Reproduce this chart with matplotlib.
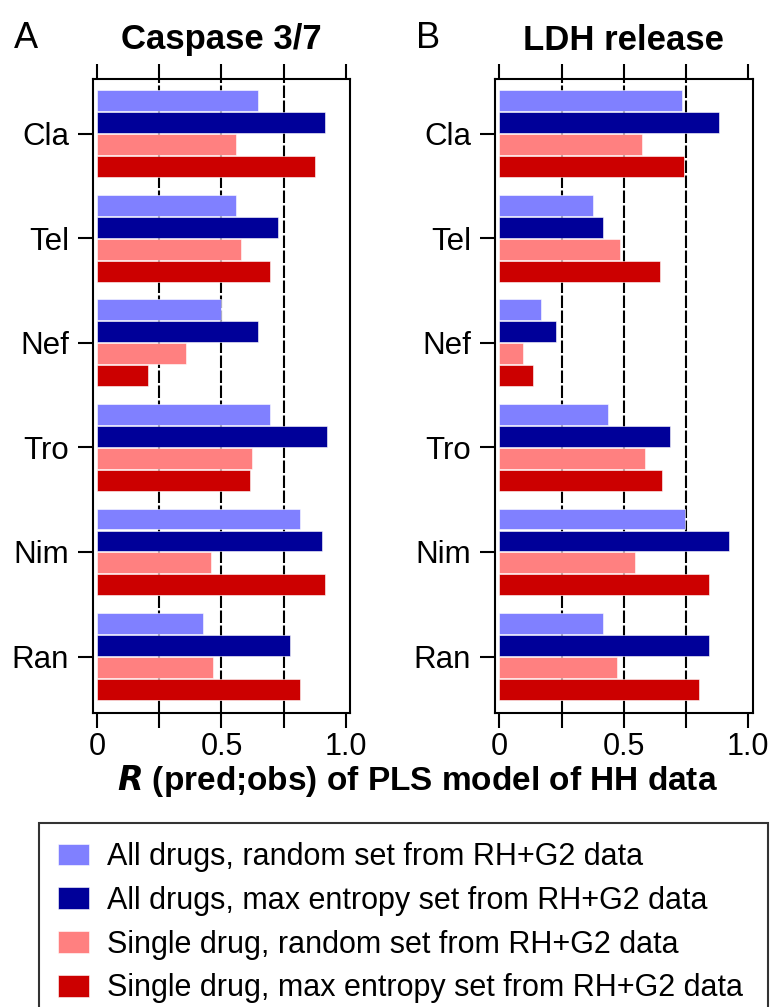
import numpy as np
import matplotlib
matplotlib.use("Agg")
import matplotlib.pyplot as plt

plt.rcParams['font.family'] = ['Liberation Sans', 'DejaVu Sans']

# datos
drogas = ['Cla', 'Tel', 'Nef', 'Tro', 'Nim', 'Ran']
series = ['All drugs, random set from RH+G2 data',
          'All drugs, max entropy set from RH+G2 data',
          'Single drug, random set from RH+G2 data',
          'Single drug, max entropy set from RH+G2 data']
colores = ['#8080FF', '#000099', '#FF8080', '#CC0000']

# Caspase 3/7
casp_all_rand = [0.646, 0.557, 0.497, 0.695, 0.816, 0.427]
casp_all_maxent = [0.917, 0.726, 0.648, 0.926, 0.906, 0.776]
casp_single_rand = [0.557, 0.577, 0.357, 0.625, 0.456, 0.467]
casp_single_maxent = [0.876, 0.695, 0.205, 0.615, 0.917, 0.816]

# LDH release
ldh_all_rand = [0.735, 0.378, 0.166, 0.435, 0.746, 0.415]
ldh_all_maxent = [0.884, 0.415, 0.228, 0.686, 0.922, 0.843]
ldh_single_rand = [0.574, 0.485, 0.096, 0.584, 0.545, 0.474]
ldh_single_maxent = [0.743, 0.645, 0.137, 0.655, 0.843, 0.803]

xticks = [0, 0.25, 0.5, 0.75, 1.0]
xticklabels = ['0', '', '0.5', '', '1.0']

W, H = 770, 1007
fig = plt.figure(figsize=(W/100, H/100), dpi=100)

paneles = [
    ((92.7, 350.0), 'A', 'Caspase 3/7',
     [casp_all_rand, casp_all_maxent, casp_single_rand, casp_single_maxent]),
    ((494.7, 752.7), 'B', 'LDH release',
     [ldh_all_rand, ldh_all_maxent, ldh_single_rand, ldh_single_maxent]),
]

y_top, y_bot = 79.3, 713.0
paso = 0.21
alto = 0.20
y = np.arange(len(drogas))
barras = []
for (x0, x1), letra, titulo, datos in paneles:
    ax = fig.add_axes([x0/W, 1 - y_bot/H, (x1 - x0)/W, (y_bot - y_top)/H])
    for k, vals in enumerate(datos):
        b = ax.barh(y + (k - 1.5)*paso, vals, height=alto, color=colores[k],
                    edgecolor='white', linewidth=0.4, zorder=3, label=series[k])
        barras.append(b)
    for g in [0.25, 0.5, 0.75]:
        ax.axvline(g, color='black', lw=1.5, linestyle=(0, (6, 1.2)), zorder=1)
    ax.set_xlim(-0.0185, 1.0177)
    ax.set_ylim(5.54, -0.52)
    ax.set_yticks(y)
    ax.set_yticklabels(drogas, fontsize=22.5)
    ax.set_xticks(xticks)
    ax.set_xticklabels(xticklabels, fontsize=22)
    ax.tick_params(axis='x', top=True, direction='out', length=11, width=1.5, pad=3)
    ax.tick_params(axis='y', direction='out', length=11, width=1.5, pad=6)
    for s in ax.spines.values():
        s.set_linewidth(1.5)
    xc = (x0 + x1)/2
    fig.text(xc/W, 1 - 40/H, titulo, fontsize=25, fontweight='bold',
             ha='center', va='center')
    fig.text((x0 - 67)/W, 1 - 38/H, letra, fontsize=26, ha='center', va='center')

fig.text(417/W, 1 - 781/H, r'$\bfit{R}$ (pred;obs) of PLS model of HH data',
         fontsize=24, fontweight='bold', ha='center', va='center')

leg = fig.legend(handles=barras[:4], labels=series, loc='upper left',
                 bbox_to_anchor=(39.3/W, 1 - 823.3/H - 0.01, (768.3 - 39.3)/W, 0.01),
                 mode='expand', fontsize=22, frameon=True, fancybox=False,
                 edgecolor='black', handlelength=1.0, handleheight=0.72,
                 handletextpad=0.6, labelspacing=0.45, borderpad=0.62,
                 borderaxespad=0)
leg.get_frame().set_linewidth(1.5)

fig.savefig('out.png', dpi=100)
